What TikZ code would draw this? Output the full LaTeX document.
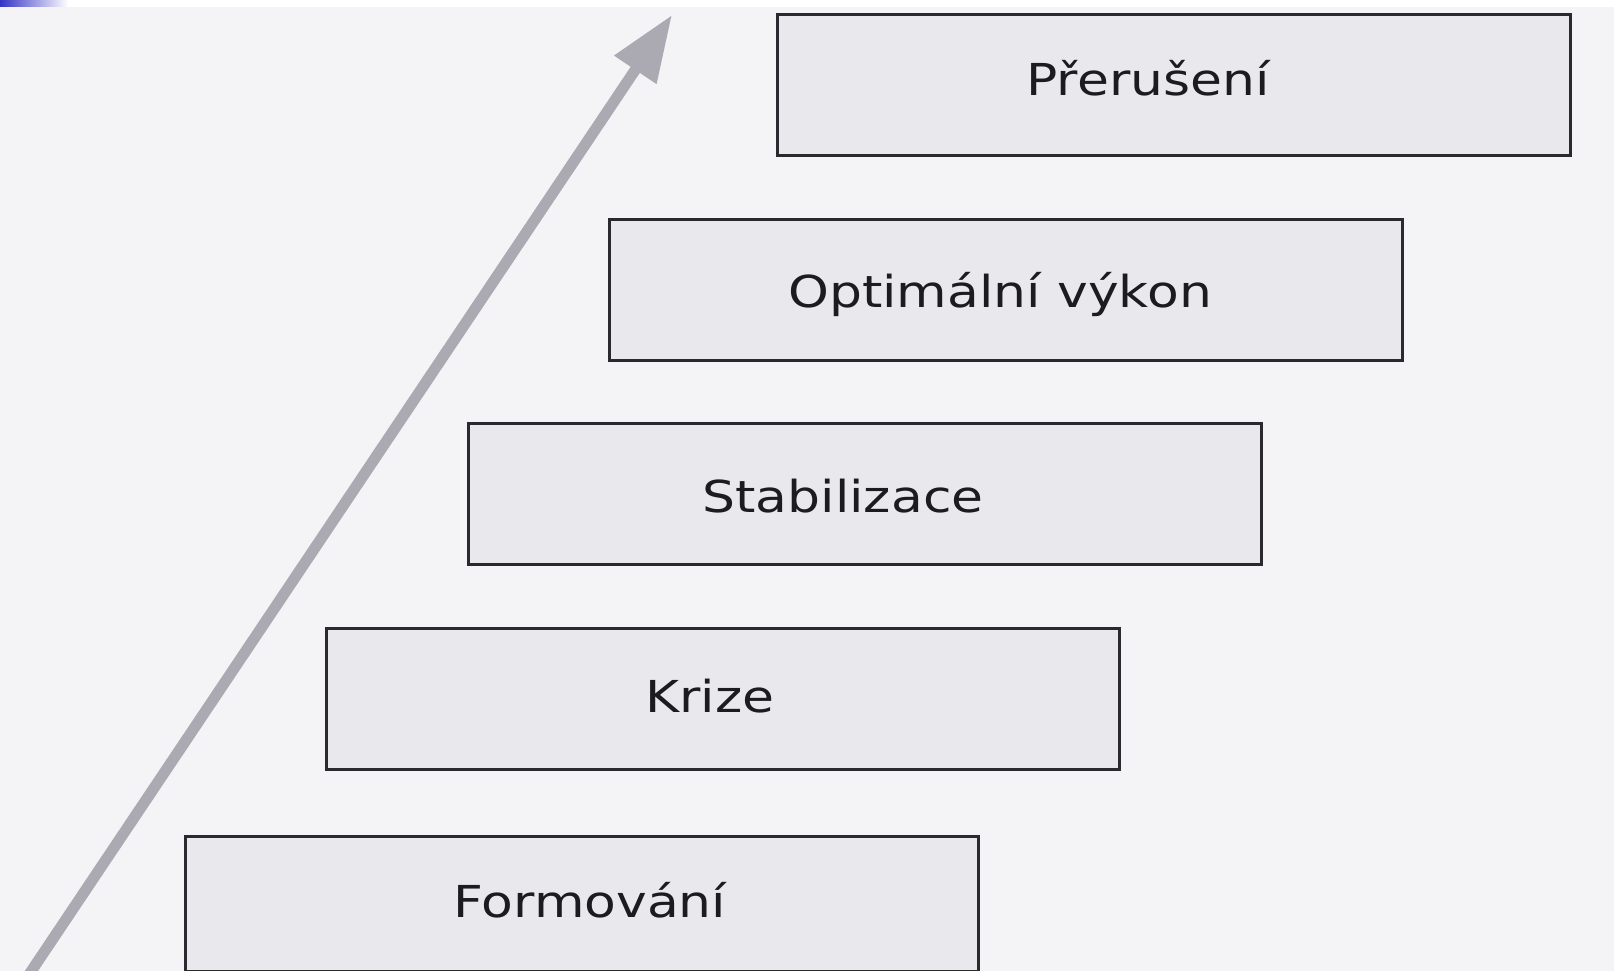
\documentclass[tikz,border=0pt]{standalone}
\usepackage{fontspec}
\newfontfamily\labfont[FakeStretch=1.18]{DejaVu Sans}
\usetikzlibrary{arrows.meta}
\definecolor{bgcol}{HTML}{F4F3F6}
\definecolor{boxfill}{HTML}{E9E8EC}
\definecolor{boxline}{HTML}{2A2A2E}
\definecolor{arrowcol}{HTML}{ABAAB3}
\definecolor{txtcol}{HTML}{1C1C1E}
\definecolor{topblue}{HTML}{3434C6}
\tikzset{
  stagebox/.style={draw=boxline, line width=2.6pt, fill=boxfill, minimum width=793pt, minimum height=141pt, inner sep=0pt, anchor=north west},
  stagetext/.style={font=\labfont\fontsize{44}{50}\selectfont, text=txtcol, anchor=base, inner sep=0pt},
  growth/.style={draw=arrowcol, line width=11pt, -{Triangle[length=66pt, width=48pt]}}
}
\begin{document}
\begin{tikzpicture}[x=1pt, y=-1pt]
\useasboundingbox (0,0) rectangle (1614,971);
\clip (0,0) rectangle (1614,971);
\fill[bgcol] (0,7) rectangle (1614,971);
\fill[white] (0,0) rectangle (1614,7);
\shade[left color=topblue, right color=white] (0,0) rectangle (68,7);
% boxes
\node[stagebox] (b1) at (776,13) {};
\node[stagebox] (b2) at (608,218) {};
\node[stagebox] (b3) at (467,422) {};
\node[stagebox] (b4) at (325,627) {};
\node[stagebox, minimum height=135pt] (b5) at (184,835) {};
% texts
\node[stagetext] (t1) at (1148,96) {Přerušení};
\node[stagetext] (t2) at (1000,307) {Optimální výkon};
\node[stagetext] (t3) at (843,512) {Stabilizace};
\node[stagetext] (t4) at (710,712) {Krize};
\node[stagetext] (t5) at (590,917) {Formování};
% arrow
\coordinate (arrowstart) at (22,985);
\coordinate (arrowtip) at (672,15);
\draw[growth] (arrowstart) -- (arrowtip);
\end{tikzpicture}
\end{document}
